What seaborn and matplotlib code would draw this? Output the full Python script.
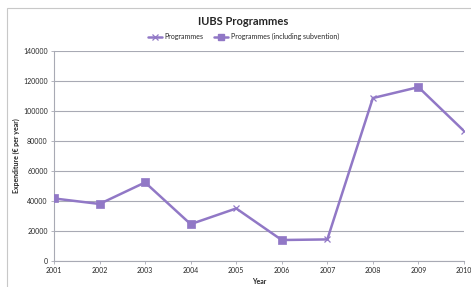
import numpy as np
import pandas as pd
import matplotlib
matplotlib.use("Agg")
import matplotlib.pyplot as plt
import seaborn as sns
from matplotlib.lines import Line2D
from matplotlib.patches import Rectangle

# Data
years = [2001, 2002, 2003, 2004, 2005, 2006, 2007, 2008, 2009, 2010]
programmes = [41500, 37800, 52200, 24300, 34800, 13700, 14100, 108600, 115900, 86600]
subvention = [42100, 37700, 52400, 24400, np.nan, 13700, np.nan, np.nan, 115900, np.nan]

df = pd.DataFrame({"Year": years, "Programmes": programmes, "Subvention": subvention})

sns.set_style("white")
plt.rcParams["font.family"] = ["Lato", "DejaVu Sans"]

purple = "#9178c6"
grid_col = "#a8aab4"

fig = plt.figure(figsize=(4.71, 2.87), dpi=100)
ax = fig.add_axes([0.1146, 0.0923, 0.8705, 0.7297])

sns.lineplot(data=df, x="Year", y="Programmes", ax=ax, color=purple, linewidth=1.8,
             marker="x", markersize=5, markeredgewidth=0.9, markeredgecolor=purple)
sub = df.dropna()
sns.scatterplot(data=sub, x="Year", y="Subvention", ax=ax, color=purple, marker="s",
                s=40, edgecolor=purple, linewidth=0.5, zorder=3)

ax.set_xlim(2001, 2010)
ax.set_ylim(0, 140000)
ax.set_xticks(years)
ax.set_xticklabels([str(y) for y in years])
ax.set_yticks(range(0, 140001, 20000))
ax.yaxis.grid(True, color=grid_col, linewidth=0.8)
ax.set_axisbelow(True)
ax.tick_params(axis="both", labelsize=5, length=2.5, width=0.6, color=grid_col, pad=2)
ax.tick_params(axis="x", direction="out", bottom=True)
ax.tick_params(axis="y", direction="out", left=True)
for side in ["top", "right"]:
    ax.spines[side].set_visible(False)
for side in ["left", "bottom"]:
    ax.spines[side].set_color(grid_col)
    ax.spines[side].set_linewidth(0.8)

ax.set_xlabel("Year", fontsize=5, fontweight="bold", labelpad=3)
ax.set_ylabel("Expenditure (\u20ac per year)", fontsize=5, fontweight="bold", labelpad=5)
ax.yaxis.set_label_coords(-0.082, 0.5)

fig.text(0.517, 0.925, "IUBS Programmes", ha="center", va="center", fontsize=8, fontweight="bold")

handles = [
    Line2D([], [], color=purple, linewidth=1.8, marker="x", markersize=4, markeredgewidth=0.9),
    Line2D([], [], color=purple, linewidth=1.8, marker="s", markersize=4),
]
fig.legend(handles, ["Programmes", "Programmes (including subvention)"],
           loc="center", bbox_to_anchor=(0.517, 0.872), ncol=2, frameon=False,
           fontsize=5, handlelength=2.0, columnspacing=1.6, handletextpad=0.4)

fig.patches.append(Rectangle((7 / 471, -0.01), 1.0, 1 - 8 / 287 + 0.01, transform=fig.transFigure,
                             fill=False, edgecolor="#c8c8c8", linewidth=0.8))

fig.savefig("out.png", dpi=100)
